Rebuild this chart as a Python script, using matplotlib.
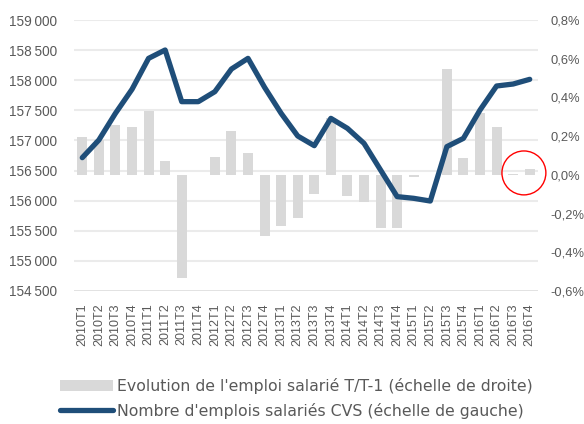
import matplotlib.pyplot as plt
from matplotlib.ticker import FuncFormatter, MultipleLocator

plt.rcParams['font.family'] = ['Liberation Sans', 'DejaVu Sans']

# Trimestres 2010T1 .. 2016T4
quarters = [f"{y}T{q}" for y in range(2010, 2017) for q in range(1, 5)]

# Nombre d'emplois salariés CVS (échelle de gauche)
emplois = [156714, 157007, 157450, 157849, 158363, 158502, 157644, 157644,
           157810, 158186, 158363, 157882, 157450, 157074, 156913, 157367,
           157201, 156952, 156509, 156067, 156039, 155994, 156897, 157035,
           157505, 157904, 157937, 158015]

# Evolution T/T-1 en % (échelle de droite)
evolution = [0.197, 0.18, 0.259, 0.249, 0.332, 0.074, -0.531, 0.0,
             0.094, 0.227, 0.115, -0.316, -0.264, -0.221, -0.099, 0.292,
             -0.109, -0.140, -0.276, -0.276, -0.01, 0.0, 0.547, 0.086,
             0.322, 0.249, 0.005, 0.03]

text_col = '#595959'
x = list(range(len(quarters)))

fig = plt.figure(figsize=(5.84, 4.24), dpi=100)
ax = fig.add_axes([74 / 584, 1 - 291 / 424, 464 / 584, 271 / 424])
ax2 = ax.twinx()

# barres sur l'axe de droite, derrière la courbe
ax.set_zorder(ax2.get_zorder() + 1)
ax.patch.set_visible(False)

bars = ax2.bar(x, evolution, width=0.6, color='#D9D9D9', zorder=2,
               label="Evolution de l'emploi salarié T/T-1 (échelle de droite)")
line, = ax.plot(x, emplois, color='#1F4E79', linewidth=3.8, solid_capstyle='round',
                solid_joinstyle='round', zorder=3,
                label="Nombre d'emplois salariés CVS (échelle de gauche)")

ax.set_xlim(-0.5, len(quarters) - 0.5)
ax.set_ylim(154500, 159000)
ax.yaxis.set_major_locator(MultipleLocator(500))
ax.yaxis.set_major_formatter(FuncFormatter(lambda v, p: f"{int(v):,}".replace(',', '\u2009')))
ax2.set_ylim(-0.6, 0.8)
ax2.yaxis.set_major_locator(MultipleLocator(0.2))
ax2.yaxis.set_major_formatter(FuncFormatter(lambda v, p: f"{v:.1f}%".replace('.', ',')))

# grille horizontale (axe de gauche)
for v in range(155000, 159001, 500):
    ax2.axhline(-0.6 + (v - 154500) / 4500 * 1.4, color='#EBEBEB', linewidth=1.5, zorder=0)
ax2.axhline(-0.6, color='#D9D9D9', linewidth=1.8, zorder=0)

for a in (ax, ax2):
    for s in a.spines.values():
        s.set_visible(False)
    a.tick_params(length=0, labelcolor=text_col)
ax.tick_params(axis='y', pad=12, labelsize=9.8)
ax2.tick_params(axis='y', pad=9, labelsize=9.3)
ax.set_xticks(x)
ax.set_xticklabels(quarters, rotation=90, fontsize=9, color=text_col)
ax.tick_params(axis='x', pad=9)

# cercle rouge d'annotation
ax2.scatter([26.65], [0.01], s=1000, facecolors='none', edgecolors='red',
            linewidths=1, zorder=5, clip_on=False)

leg = fig.legend(handles=[bars, line], loc='upper left', bbox_to_anchor=(60 / 584, 1 - 378 / 424),
                 frameon=False, prop={'family': 'DejaVu Sans', 'size': 11.3}, labelcolor=text_col,
                 handlelength=3.4, handletextpad=0.25, labelspacing=0.55,
                 borderaxespad=0, borderpad=0)

fig.savefig('out.png', dpi=100)
